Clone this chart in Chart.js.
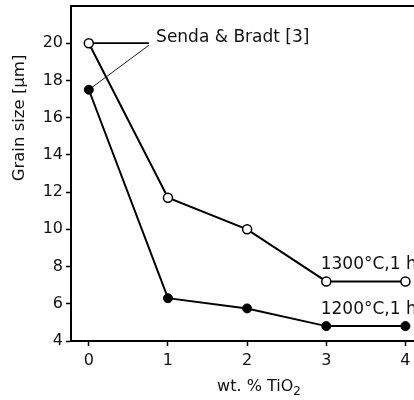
<!DOCTYPE html>
<html>
<head>
<meta charset="utf-8">
<script src="https://cdn.jsdelivr.net/npm/chart.js@4"></script>
<style>
html, body { margin: 0; padding: 0; background: #fff; overflow: hidden; }
</style>
</head>
<body>
<canvas id="myChart" width="460" height="400"></canvas>
<script>
// data
var xTicks = [0, 1, 2, 3, 4];
var yTicks = [4, 6, 8, 10, 12, 14, 16, 18, 20];
var tio2 = [0, 1, 2, 3, 4];
var grain1300 = [20, 11.7, 10, 7.2, 7.2];
var grain1200 = [17.5, 6.3, 5.75, 4.8, 4.8];
var label1300 = "1300°C,1 h";
var label1200 = "1200°C,1 h";
var refLabel = "Senda & Bradt [3]";

var FONT = '"DejaVu Sans", sans-serif';
var INK = '#111';

// where the in-plot labels sit (data units)
var annot = {
  refX: 0.85, refY: 20.28, leaderX: 0.76,
  lab1300: [2.93, 8.12],
  lab1200: [2.93, 5.71]
};

function pts(ys) {
  return tio2.map(function (x, i) { return { x: x, y: ys[i] }; });
}

var extras = {
  id: 'extras',
  beforeDatasetsDraw: function (chart) {
    var c = chart.ctx, xs = chart.scales.x, ys = chart.scales.y;
    var ex = xs.getPixelForValue(annot.leaderX);
    var ey = ys.getPixelForValue(grain1300[0]);
    c.save();
    c.strokeStyle = '#000';
    c.lineWidth = 1.8;
    c.beginPath();
    c.moveTo(xs.getPixelForValue(tio2[0]), ey);
    c.lineTo(ex, ey);
    c.stroke();
    c.lineWidth = 0.9;
    c.beginPath();
    c.moveTo(xs.getPixelForValue(tio2[0]), ys.getPixelForValue(grain1200[0]));
    c.lineTo(ex, ey + 2);
    c.stroke();
    c.restore();
  },
  afterDraw: function (chart) {
    var c = chart.ctx, xs = chart.scales.x, ys = chart.scales.y, a = chart.chartArea;
    c.save();
    // top frame line
    c.strokeStyle = '#000';
    c.lineWidth = 2;
    c.beginPath();
    c.moveTo(a.left - 1, a.top);
    c.lineTo(a.right, a.top);
    c.stroke();

    c.fillStyle = INK;
    c.font = '17px ' + FONT;
    c.textBaseline = 'middle';
    c.textAlign = 'left';
    c.fillText(refLabel, xs.getPixelForValue(annot.refX), ys.getPixelForValue(annot.refY));
    c.fillText(label1300, xs.getPixelForValue(annot.lab1300[0]), ys.getPixelForValue(annot.lab1300[1]));
    c.fillText(label1200, xs.getPixelForValue(annot.lab1200[0]), ys.getPixelForValue(annot.lab1200[1]));

    // y title
    c.save();
    c.translate(20, 118);
    c.rotate(-Math.PI / 2);
    c.textAlign = 'center';
    c.font = '16.5px ' + FONT;
    c.fillText('Grain size [µm]', 0, 0);
    c.restore();

    // x title with subscript
    var main = 'wt. % TiO';
    c.font = '16px ' + FONT;
    var w1 = c.measureText(main).width;
    c.font = '12px ' + FONT;
    var w2 = c.measureText('2').width;
    var x0 = 259 - (w1 + w2) / 2;
    c.font = '16px ' + FONT;
    c.textAlign = 'left';
    c.fillText(main, x0, 387);
    c.font = '12px ' + FONT;
    c.fillText('2', x0 + w1, 392);
    c.restore();
  }
};

new Chart(document.getElementById('myChart').getContext('2d'), {
  type: 'line',
  data: {
    datasets: [{
      label: label1300,
      data: pts(grain1300),
      borderColor: '#000',
      borderWidth: 2,
      pointRadius: 4.5,
      pointBackgroundColor: '#fff',
      pointBorderColor: '#000',
      pointBorderWidth: 1.5
    }, {
      label: label1200,
      data: pts(grain1200),
      borderColor: '#000',
      borderWidth: 2,
      pointRadius: 4.5,
      pointBackgroundColor: '#000',
      pointBorderColor: '#000',
      pointBorderWidth: 1
    }]
  },
  options: {
    responsive: false,
    animation: false,
    layout: { padding: { top: 4, right: 15, left: 0, bottom: 0 } },
    plugins: { legend: { display: false }, tooltip: { enabled: false } },
    scales: {
      x: {
        type: 'linear',
        min: -0.225,
        max: 4.5,
        afterBuildTicks: function (s) { s.ticks = xTicks.map(function (v) { return { value: v }; }); },
        afterFit: function (s) { s.height = 59; s.paddingLeft = 0; s.paddingRight = 0; },
        grid: { drawOnChartArea: false, drawTicks: true, tickLength: 5, tickColor: '#000', tickWidth: 1.5 },
        border: { display: true, color: '#000', width: 2 },
        ticks: { color: INK, font: { family: FONT, size: 16 }, padding: 5, maxRotation: 0 }
      },
      y: {
        min: 4,
        max: 22,
        afterBuildTicks: function (s) { s.ticks = yTicks.map(function (v) { return { value: v }; }); },
        afterFit: function (s) { s.width = 71; s.paddingTop = 0; s.paddingBottom = 0; },
        grid: { drawOnChartArea: false, drawTicks: true, tickLength: 5, tickColor: '#000', tickWidth: 1.5 },
        border: { display: true, color: '#000', width: 2 },
        ticks: { color: INK, font: { family: FONT, size: 16 }, padding: 3 }
      }
    }
  },
  plugins: [extras]
});
</script>
</body>
</html>
